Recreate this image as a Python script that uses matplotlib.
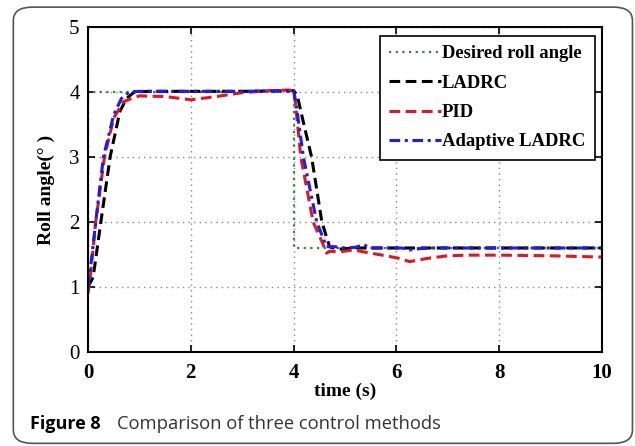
import matplotlib
matplotlib.use("Agg")
import matplotlib.pyplot as plt
from matplotlib.patches import FancyBboxPatch

# Desired roll angle (step reference)
t_ref = [0, 0, 4, 4, 10]
v_ref = [1.0, 4.0, 4.0, 1.6, 1.6]

# LADRC response
t_lad = [0, 0.1, 0.25, 0.43, 0.62, 0.75, 0.9, 1.2, 2, 3, 4, 4.07, 4.2, 4.35,
         4.55, 4.7, 4.85, 5.2, 6, 8, 10]
v_lad = [1.0, 1.15, 2.0, 3.0, 3.7, 3.9, 4.0, 4.01, 4.01, 4.01, 4.02, 3.95, 3.5,
         3.0, 2.0, 1.62, 1.58, 1.6, 1.6, 1.6, 1.6]

# PID response
t_pid = [0, 0.05, 0.15, 0.32, 0.5, 0.69, 0.85, 1.0, 1.5, 2.0, 2.5, 3.0, 3.5,
         3.9, 4.0, 4.03, 4.14, 4.38, 4.55, 4.64, 4.7, 4.9, 5.16, 5.5, 5.8,
         6.05, 6.26, 6.6, 7.0, 7.4, 8, 9, 10]
v_pid = [0.9, 1.2, 2.0, 3.0, 3.6, 3.85, 3.9, 3.94, 3.93, 3.88, 3.93, 3.99,
         4.02, 4.03, 4.02, 3.88, 3.0, 2.0, 1.7, 1.52, 1.55, 1.54, 1.57, 1.52,
         1.48, 1.44, 1.39, 1.44, 1.48, 1.49, 1.49, 1.48, 1.46]

# Adaptive LADRC response
t_ada = [0, 0.05, 0.15, 0.3, 0.5, 0.65, 0.8, 1.0, 2, 3, 4, 4.05, 4.19, 4.45,
         4.64, 4.8, 5.0, 5.2, 5.36, 5.5, 5.8, 6.1, 6.26, 6.45, 6.7, 8, 10]
v_ada = [1.0, 1.3, 2.0, 3.0, 3.65, 3.9, 4.0, 4.01, 4.01, 4.01, 4.02, 3.8, 3.0,
         2.0, 1.62, 1.62, 1.6, 1.61, 1.65, 1.6, 1.6, 1.6, 1.57, 1.59, 1.6, 1.6, 1.6]

xticks = [0, 2, 4, 6, 8, 10]
yticks = [0, 1, 2, 3, 4, 5]

serif = "Liberation Serif"

fig = plt.figure(figsize=(6.35, 4.46), dpi=100)

# rounded frame around the figure
frame = FancyBboxPatch((0.021, 0.006), 0.975, 0.978,
                       boxstyle="round,pad=0,rounding_size=0.03",
                       transform=fig.transFigure, fill=False,
                       edgecolor="#555555", linewidth=1.2)
fig.patches.append(frame)

ax = fig.add_axes([0.1386, 0.2108, 0.8094, 0.7287])

ax.plot(t_ref, v_ref, color="#2e8b2e", linestyle=(0, (1, 2)), linewidth=1.6,
        label="Desired roll angle")
ax.plot(t_lad, v_lad, color="black", linestyle=(0, (3.5, 1.8)), linewidth=2.2,
        label="LADRC")
ax.plot(t_pid, v_pid, color="#e8141c", linestyle=(0, (3.5, 1.8)), linewidth=2.2,
        label="PID")
ax.plot(t_ada, v_ada, color="#1a1aff", linestyle=(0, (3.5, 1.5, 1, 1.5)),
        linewidth=2.2, label="Adaptive LADRC")

ax.set_xlim(0, 10)
ax.set_ylim(0, 5)
ax.set_xticks(xticks)
ax.set_yticks(yticks)
ax.set_xticklabels([str(x) for x in xticks], fontfamily=serif,
                   fontweight="bold", fontsize=15)
ax.set_yticklabels([str(y) for y in yticks], fontfamily=serif, fontsize=15)
ax.tick_params(direction="in", length=5, width=1.2, top=True, right=True)
ax.tick_params(axis="x", pad=8)
ax.tick_params(axis="y", pad=6)
ax.grid(True, color="#888888", linestyle=(0, (1, 3)), linewidth=1.0)
for s in ax.spines.values():
    s.set_linewidth(1.5)

ax.set_xlabel("time (s)", fontfamily=serif, fontweight="bold", fontsize=14,
              labelpad=0)
ax.set_ylabel("Roll angle(° )", fontfamily=serif, fontweight="bold", fontsize=14,
              labelpad=10)

leg = ax.legend(loc="upper right", bbox_to_anchor=(0.986, 0.972),
                prop={"family": serif, "weight": "bold", "size": 13.4},
                fancybox=False, framealpha=1, edgecolor="black",
                handlelength=2.8, handletextpad=0.05, borderpad=0.5,
                labelspacing=0.66, borderaxespad=0)
leg.get_frame().set_linewidth(1.2)

fig.text(0.047, 0.05, "Figure 8", fontfamily="Open Sans", fontweight="bold",
         fontsize=13, color="black", va="center")
fig.text(0.184, 0.05, "Comparison of three control methods",
         fontfamily="Open Sans", fontsize=13.2, color="#333333", va="center")

fig.savefig("out.png", dpi=100)
